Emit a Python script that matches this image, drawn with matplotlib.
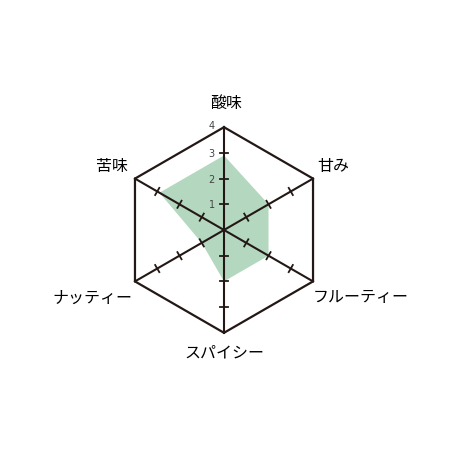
import numpy as np
import matplotlib.pyplot as plt

plt.rcParams['font.family'] = ['Noto Sans CJK JP', 'DejaVu Sans']

# データ
labels = ['酸味', '甘み', 'フルーティー', 'スパイシー', 'ナッティー', '苦味']
values = [2.9, 2.0, 2.0, 2.0, 1.0, 2.9]
scale_ticks = [1, 2, 3, 4]
rmax = 4

line_col = '#231815'
fill_col = '#b4d8bf'

# 角度 (上から時計回り)
ang = np.deg2rad(90 - 60 * np.arange(len(labels)))
ux, uy = np.cos(ang), np.sin(ang)

fig = plt.figure(figsize=(4.6, 4.6), dpi=100)
ax = fig.add_axes([0, 0, 1, 1])
unit = 25.7
cx, cy = 224, 231
ax.set_xlim(-cx / unit, (460 - cx) / unit)
ax.set_ylim(-(460 - cy) / unit, cy / unit)
ax.axis('off')

# 塗り
v = np.array(values)
ax.fill(v * ux, v * uy, color=fill_col, lw=0, zorder=1)

# 外枠の六角形
ax.plot(np.append(rmax * ux, rmax * ux[0]), np.append(rmax * uy, rmax * uy[0]),
        color=line_col, lw=1.6, zorder=3, solid_joinstyle='miter')

# 軸線と目盛り
for i in range(len(labels)):
    ax.plot([0, rmax * ux[i]], [0, rmax * uy[i]], color=line_col, lw=1.5, zorder=3)
    px, py = -uy[i], ux[i]
    for t in scale_ticks[:-1]:
        ax.plot([t * ux[i] - 0.16 * px, t * ux[i] + 0.16 * px],
                [t * uy[i] - 0.16 * py, t * uy[i] + 0.16 * py],
                color=line_col, lw=1.3, zorder=3)

# 目盛りラベル
for t in scale_ticks:
    ax.text(-0.48, t + (0.08 if t == rmax else 0), str(t), fontsize=7, color='#444444',
            ha='center', va='center', family='DejaVu Sans')

# 項目ラベル
ax.text(0.07, 4.98, labels[0], fontsize=11.5, ha='center', va='center')
ax.text(3.62, 2.5, labels[1], fontsize=11.5, ha='left', va='center')
ax.text(3.45, -2.6, labels[2], fontsize=11.5, ha='left', va='center')
ax.text(0, -4.74, labels[3], fontsize=11.5, ha='center', va='center')
ax.text(-3.55, -2.6, labels[4], fontsize=11.5, ha='right', va='center')
ax.text(-3.75, 2.5, labels[5], fontsize=11.5, ha='right', va='center')

fig.savefig('out.png', dpi=100)
